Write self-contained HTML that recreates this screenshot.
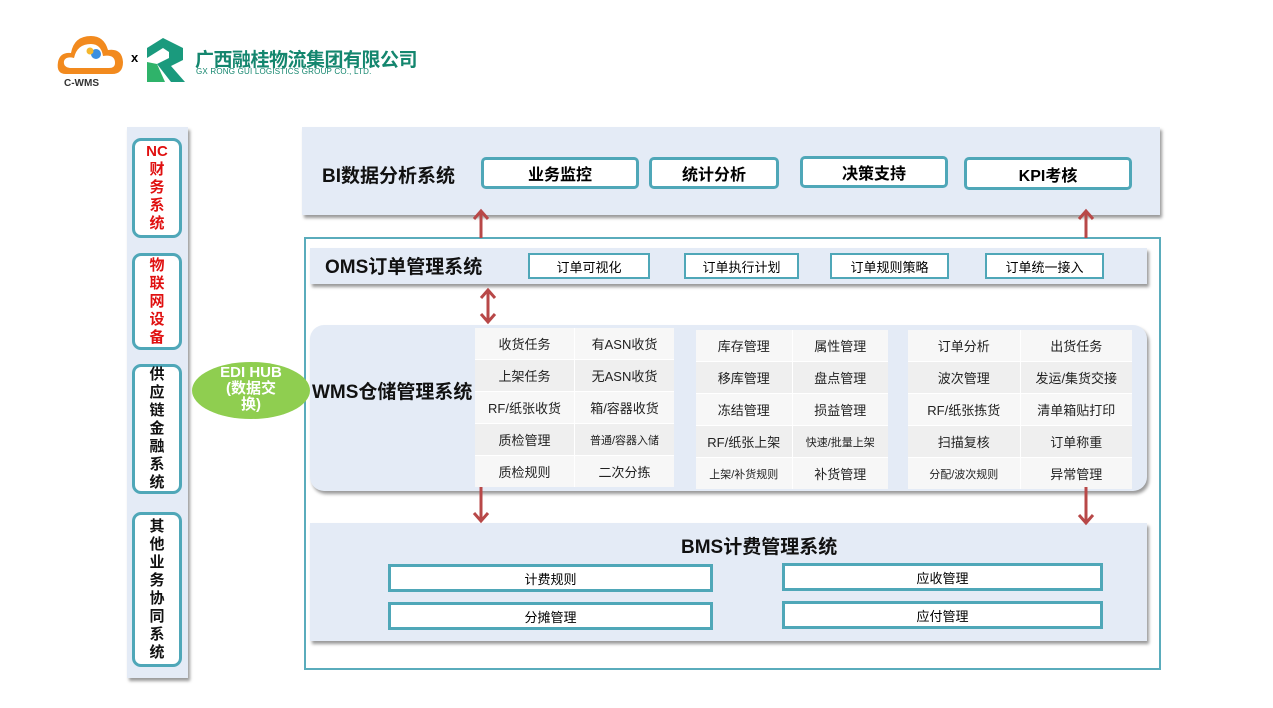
<!DOCTYPE html>
<html><head><meta charset="utf-8"><style>
*{margin:0;padding:0;box-sizing:border-box}
body{width:1273px;height:708px;background:#fff;position:relative;overflow:hidden;font-family:"Liberation Sans","Noto Sans CJK SC",sans-serif}
.a{position:absolute}
.panel{background:#e4ebf6;box-shadow:2px 3px 3px #9a9a9a}
.lb{position:absolute;left:132px;width:50px;border:3px solid #4fa7b8;border-radius:9px;background:#fff;font-weight:bold;font-size:15px;text-align:center;line-height:18px;display:flex;flex-direction:column;justify-content:center}
.btn{position:absolute;border:3px solid #4fa7b8;border-radius:5px;background:#fff;font-weight:bold;font-size:16px;display:flex;align-items:center;justify-content:center}
.ob{position:absolute;top:253px;height:26px;border:2px solid #4fa7b8;background:#fff;font-size:13px;display:flex;align-items:center;justify-content:center}
.grid{position:absolute;top:328px;display:grid;grid-template-columns:1fr 1fr;grid-auto-rows:31px;gap:1px 1px;background:#fff}
.grid div{display:flex;align-items:center;justify-content:center;font-size:13px;color:#222}
.grid div:nth-child(4n+1),.grid div:nth-child(4n+2){background:#f7f7f7}
.grid div:nth-child(4n+3),.grid div:nth-child(4n){background:#efefef}
.bb{position:absolute;height:28px;border:3px solid #4fa7b8;background:#fff;font-size:13px;display:flex;align-items:center;justify-content:center}
.t{position:absolute;font-weight:bold;font-size:19px;color:#111}
</style></head><body>
<!-- logos -->
<svg class="a" style="left:56px;top:30px" width="72" height="60">
<path d="M10 44 Q0 44 2 32 Q4 22 15 23 Q18 6 35 6 Q48 6 52 20 Q66 18 67 32 Q67 44 56 44 Z" fill="#f28a1e"/>
<path d="M14 38 Q7 37 8 31 Q10 26 18 28 Q21 14 35 14 Q45 14 47 26 Q59 24 59 33 Q59 38 53 38Z" fill="#fff"/>
<circle cx="40" cy="24" r="5" fill="#3b8fe0"/><circle cx="34" cy="21" r="3.5" fill="#f5b72e"/>
<text x="8" y="56" font-size="10" font-family="Liberation Sans" fill="#333" font-weight="bold">C-WMS</text>
</svg>
<div class="a" style="left:131px;top:50px;font-size:13px;font-weight:bold">x</div>
<svg class="a" style="left:143px;top:34px" width="48" height="50">
<polygon points="4,14 20,4 40,14 40,26 28,32 42,48 28,48 14,30 26,24 26,18 20,14 4,24" fill="#1a9a7d"/>
<polygon points="4,28 14,30 22,48 4,48" fill="#2fb36a"/>
</svg>
<div class="a" style="left:195px;top:45px;font-size:19px;font-weight:bold;color:#14866e;letter-spacing:-0.5px">广西融桂物流集团有限公司</div>
<div class="a" style="left:196px;top:67px;font-size:8px;color:#14866e;letter-spacing:0.2px">GX RONG GUI LOGISTICS GROUP CO., LTD.</div>

<!-- left column -->
<div class="a panel" style="left:127px;top:127px;width:61px;height:551px"></div>
<div class="lb" style="top:138px;height:100px;color:#e01010">NC<br>财<br>务<br>系<br>统</div>
<div class="lb" style="top:253px;height:97px;color:#e01010">物<br>联<br>网<br>设<br>备</div>
<div class="lb" style="top:364px;height:130px;color:#111">供<br>应<br>链<br>金<br>融<br>系<br>统</div>
<div class="lb" style="top:512px;height:155px;color:#111">其<br>他<br>业<br>务<br>协<br>同<br>系<br>统</div>

<!-- BI -->
<div class="a panel" style="left:302px;top:127px;width:858px;height:88px"></div>
<div class="t" style="left:322px;top:161px">BI数据分析系统</div>
<div class="btn" style="left:481px;top:157px;width:158px;height:32px">业务监控</div>
<div class="btn" style="left:649px;top:157px;width:130px;height:32px">统计分析</div>
<div class="btn" style="left:800px;top:156px;width:148px;height:32px">决策支持</div>
<div class="btn" style="left:964px;top:157px;width:168px;height:33px">KPI考核</div>

<!-- outer frame -->
<div class="a" style="left:304px;top:237px;width:857px;height:433px;border:2px solid #5aacbc"></div>

<!-- OMS -->
<div class="a panel" style="left:310px;top:248px;width:837px;height:36px"></div>
<div class="t" style="left:325px;top:252px">OMS订单管理系统</div>
<div class="ob" style="left:528px;width:122px">订单可视化</div>
<div class="ob" style="left:684px;width:115px">订单执行计划</div>
<div class="ob" style="left:830px;width:119px">订单规则策略</div>
<div class="ob" style="left:985px;width:119px">订单统一接入</div>

<!-- WMS -->
<div class="a panel" style="left:310px;top:325px;width:837px;height:166px;border-radius:14px"></div>
<div class="t" style="left:312px;top:377px">WMS仓储管理系统</div>
<div class="grid" style="left:475px;width:199px"><div>收货任务</div><div>有ASN收货</div><div>上架任务</div><div>无ASN收货</div><div>RF/纸张收货</div><div>箱/容器收货</div><div>质检管理</div><div style="font-size:11px">普通/容器入储</div><div>质检规则</div><div>二次分拣</div></div>
<div class="grid" style="left:696px;width:192px;top:330px"><div>库存管理</div><div>属性管理</div><div>移库管理</div><div>盘点管理</div><div>冻结管理</div><div>损益管理</div><div>RF/纸张上架</div><div style="font-size:11px">快速/批量上架</div><div style="font-size:11px">上架/补货规则</div><div>补货管理</div></div>
<div class="grid" style="left:908px;width:224px;top:330px"><div>订单分析</div><div>出货任务</div><div>波次管理</div><div>发运/集货交接</div><div>RF/纸张拣货</div><div>清单箱贴打印</div><div>扫描复核</div><div>订单称重</div><div style="font-size:11px">分配/波次规则</div><div>异常管理</div></div>

<!-- EDI -->
<div class="a" style="left:192px;top:362px;width:118px;height:57px;border-radius:50%;background:#8fce50;color:#fff;font-weight:bold;font-size:15px;text-align:center;line-height:16px;padding-top:3px">EDI HUB<br>(数据交<br>换)</div>

<!-- BMS -->
<div class="a panel" style="left:310px;top:523px;width:837px;height:118px"></div>
<div class="t" style="left:681px;top:532px">BMS计费管理系统</div>
<div class="bb" style="left:388px;top:564px;width:325px">计费规则</div>
<div class="bb" style="left:782px;top:563px;width:321px">应收管理</div>
<div class="bb" style="left:388px;top:602px;width:325px">分摊管理</div>
<div class="bb" style="left:782px;top:601px;width:321px">应付管理</div>

<!-- arrows -->
<svg class="a" style="left:0;top:0" width="1273" height="708">
<g stroke="#b84848" stroke-width="3" fill="none">
<path d="M481 238V212M474 219L481 211L488 219"/>
<path d="M1086 238V212M1079 219L1086 211L1093 219"/>
<path d="M488 291V321M481 298L488 290L495 298M481 314L488 322L495 314"/>
<path d="M481 487V520M474 513L481 521L488 513"/>
<path d="M1086 487V523M1079 515L1086 523L1093 515"/>
</g></svg>
</body></html>
